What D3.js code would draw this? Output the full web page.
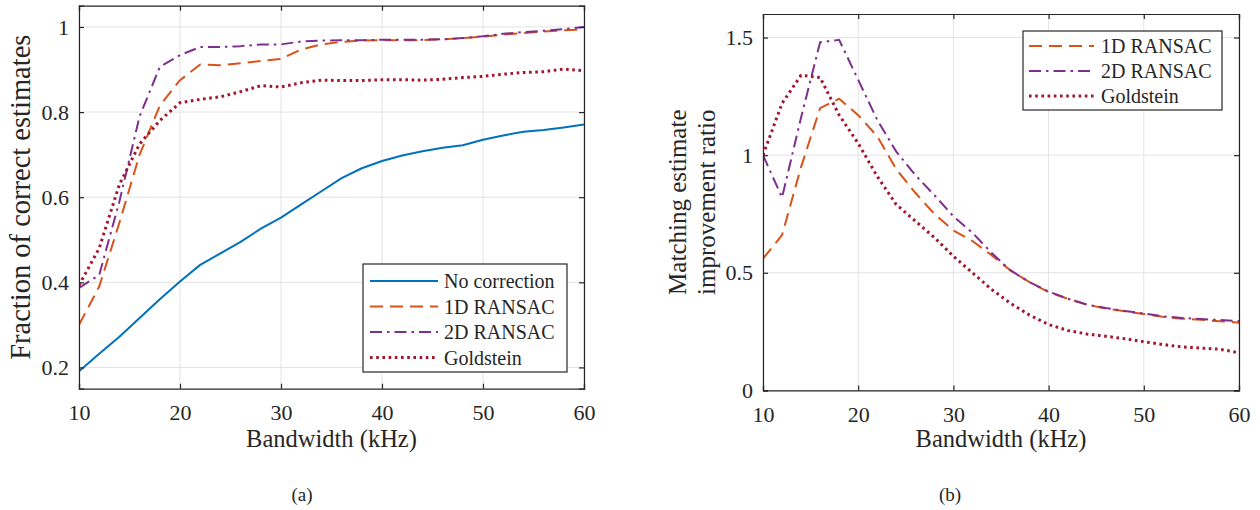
<!DOCTYPE html>
<html>
<head>
<meta charset="utf-8">
<script src="https://cdn.jsdelivr.net/npm/d3@7"></script>
<style>
  html, body { margin: 0; padding: 0; background: #fff; }
  svg { display: block; }
  text { font-family: "Liberation Serif", "Times New Roman", serif; fill: #262626; }
</style>
</head>
<body>
<svg id="fig" width="1260" height="510"></svg>
<script>
// Bandwidth sample points (kHz)
const bandwidth = [10, 12, 14, 16, 18, 20, 22, 24, 26, 28, 30, 32, 34, 36, 38, 40, 42, 44, 46, 48, 50, 52, 54, 56, 58, 60];

// (a) Fraction of correct estimates
const noCorrection = [0.191, 0.232, 0.272, 0.316, 0.360, 0.402, 0.441, 0.468, 0.495, 0.526, 0.552, 0.583, 0.614, 0.645, 0.668, 0.685, 0.698, 0.708, 0.716, 0.722, 0.735, 0.745, 0.754, 0.758, 0.764, 0.771];
const ransac1DFrac = [0.300, 0.390, 0.540, 0.700, 0.815, 0.875, 0.912, 0.910, 0.915, 0.920, 0.925, 0.947, 0.959, 0.965, 0.968, 0.969, 0.969, 0.969, 0.971, 0.974, 0.977, 0.982, 0.986, 0.989, 0.992, 0.994];
const ransac2DFrac = [0.387, 0.417, 0.590, 0.790, 0.906, 0.934, 0.953, 0.953, 0.955, 0.959, 0.959, 0.966, 0.968, 0.969, 0.969, 0.970, 0.970, 0.970, 0.971, 0.974, 0.978, 0.984, 0.988, 0.991, 0.995, 1.000];
const goldsteinFrac = [0.393, 0.480, 0.630, 0.725, 0.780, 0.822, 0.830, 0.836, 0.848, 0.862, 0.859, 0.869, 0.875, 0.874, 0.874, 0.876, 0.876, 0.875, 0.877, 0.881, 0.884, 0.889, 0.893, 0.895, 0.901, 0.897];

// (b) Matching estimate improvement ratio
const ransac1DRatio = [0.56, 0.66, 0.95, 1.20, 1.24, 1.17, 1.08, 0.94, 0.84, 0.75, 0.68, 0.635, 0.575, 0.51, 0.46, 0.418, 0.39, 0.365, 0.348, 0.336, 0.325, 0.313, 0.305, 0.300, 0.294, 0.288];
const ransac2DRatio = [1.00, 0.82, 1.16, 1.48, 1.49, 1.32, 1.15, 1.015, 0.915, 0.83, 0.74, 0.67, 0.585, 0.51, 0.46, 0.42, 0.39, 0.365, 0.35, 0.338, 0.327, 0.315, 0.308, 0.303, 0.299, 0.295];
const goldsteinRatio = [1.00, 1.22, 1.34, 1.33, 1.17, 1.05, 0.91, 0.79, 0.72, 0.65, 0.57, 0.50, 0.43, 0.37, 0.32, 0.28, 0.255, 0.24, 0.23, 0.22, 0.207, 0.195, 0.185, 0.18, 0.175, 0.16];

// Tick values and labels
const xTicks = [10, 20, 30, 40, 50, 60];
const yTicksA = [0.2, 0.4, 0.6, 0.8, 1];
const yTicksB = [0, 0.5, 1, 1.5];

const seriesNames = ["No correction", "1D RANSAC", "2D RANSAC", "Goldstein"];

const styles = {
  "No correction": { color: "#0072BD", dash: null, width: 2 },
  "1D RANSAC":     { color: "#D95319", dash: "13,7", width: 2 },
  "2D RANSAC":     { color: "#7E2F8E", dash: "12,5,2.5,5", width: 2 },
  "Goldstein":     { color: "#A2142F", dash: "2.6,3.6", width: 3 }
};

const svg = d3.select("#fig");
const defs = svg.append("defs");

function drawPanel(cfg) {
  const { id, left, right, top, bottom, yDomain, yTicks, series, legend, yLabelLines, yLabelX, yLabelSize, caption, captionX } = cfg;
  const x = d3.scaleLinear().domain([10, 60]).range([left, right]);
  const y = d3.scaleLinear().domain(yDomain).range([bottom, top]);
  const g = svg.append("g");

  defs.append("clipPath").attr("id", "clip-" + id)
    .append("rect").attr("x", left).attr("y", top).attr("width", right - left).attr("height", bottom - top);

  // grid
  g.append("g").selectAll("line").data(xTicks).join("line")
    .attr("x1", d => x(d)).attr("x2", d => x(d)).attr("y1", top).attr("y2", bottom)
    .attr("stroke", "#e3e3e3").attr("stroke-width", 1);
  g.append("g").selectAll("line").data(yTicks).join("line")
    .attr("x1", left).attr("x2", right).attr("y1", d => y(d)).attr("y2", d => y(d))
    .attr("stroke", "#e3e3e3").attr("stroke-width", 1);

  // data lines
  const line = d3.line().x(d => x(d[0])).y(d => y(d[1]));
  const lines = g.append("g").attr("clip-path", "url(#clip-" + id + ")");
  series.forEach(s => {
    const st = styles[s.name];
    lines.append("path")
      .datum(bandwidth.map((b, i) => [b, s.values[i]]))
      .attr("d", line)
      .attr("fill", "none")
      .attr("stroke", st.color)
      .attr("stroke-width", st.width)
      .attr("stroke-dasharray", st.dash)
      .attr("stroke-linejoin", "round");
  });

  // axes (ticks inside, mirrored on top/right)
  const tl = 5;
  const axB = d3.axisBottom(x).tickValues(xTicks).tickSize(-tl).tickPadding(16).tickFormat(d3.format("d"));
  const axT = d3.axisTop(x).tickValues(xTicks).tickSize(-tl).tickFormat("");
  const axL = d3.axisLeft(y).tickValues(yTicks).tickSize(-tl).tickPadding(10).tickFormat(d => String(d));
  const axR = d3.axisRight(y).tickValues(yTicks).tickSize(-tl).tickFormat("");

  function styleAxis(sel) {
    sel.select(".domain").attr("stroke", "#262626").attr("stroke-width", 1.2);
    sel.selectAll(".tick line").attr("stroke", "#262626").attr("stroke-width", 1.2);
    sel.selectAll("text").attr("font-size", 22).attr("fill", "#262626")
      .style("font-family", "'Liberation Serif', 'Times New Roman', serif");
  }
  g.append("g").attr("transform", `translate(0,${bottom})`).call(axB).call(styleAxis)
    .selectAll(".tick text").attr("dy", "0.71em");
  g.append("g").attr("transform", `translate(0,${top})`).call(axT).call(styleAxis);
  g.append("g").attr("transform", `translate(${left},0)`).call(axL).call(styleAxis);
  g.append("g").attr("transform", `translate(${right},0)`).call(axR).call(styleAxis);

  // x label
  g.append("text")
    .attr("x", (left + right) / 2).attr("y", 447)
    .attr("text-anchor", "middle").attr("font-size", 24.5)
    .text("Bandwidth (kHz)");

  // y label (one or two lines)
  const cy = (top + bottom) / 2;
  yLabelLines.forEach((txt, i) => {
    g.append("text")
      .attr("transform", `translate(${yLabelX[i]},${cy}) rotate(-90)`)
      .attr("text-anchor", "middle").attr("font-size", yLabelSize)
      .text(txt);
  });

  // legend
  const L = legend;
  const lg = g.append("g");
  lg.append("rect")
    .attr("x", L.x).attr("y", L.y).attr("width", L.w).attr("height", L.h)
    .attr("fill", "#fff").attr("stroke", "#262626").attr("stroke-width", 1.2);
  series.forEach((s, i) => {
    const st = styles[s.name];
    const ry = L.rowY + i * L.rowGap;
    lg.append("line")
      .attr("x1", L.sx0).attr("x2", L.sx1).attr("y1", ry).attr("y2", ry)
      .attr("stroke", st.color).attr("stroke-width", st.width)
      .attr("stroke-dasharray", st.dash);
    lg.append("text")
      .attr("x", L.tx).attr("y", ry + 7)
      .attr("font-size", 20).attr("fill", "#000")
      .text(s.name);
  });

  // caption
  svg.append("text")
    .attr("x", captionX).attr("y", 501)
    .attr("text-anchor", "middle").attr("font-size", 19).attr("fill", "#000")
    .text(caption);
}

drawPanel({
  id: "a", left: 79, right: 584, top: 5.7, bottom: 388.7,
  yDomain: [0.15, 1.05], yTicks: yTicksA,
  series: [
    { name: seriesNames[0], values: noCorrection },
    { name: seriesNames[1], values: ransac1DFrac },
    { name: seriesNames[2], values: ransac2DFrac },
    { name: seriesNames[3], values: goldsteinFrac }
  ],
  legend: { x: 363, y: 264, w: 204, h: 108, rowY: 281, rowGap: 25.5, sx0: 370, sx1: 438, tx: 444 },
  yLabelLines: ["Fraction of correct estimates"], yLabelX: [29.5], yLabelSize: 28.5,
  caption: "(a)", captionX: 302
});

drawPanel({
  id: "b", left: 763, right: 1239, top: 14, bottom: 390.4,
  yDomain: [0, 1.6], yTicks: yTicksB,
  series: [
    { name: seriesNames[1], values: ransac1DRatio },
    { name: seriesNames[2], values: ransac2DRatio },
    { name: seriesNames[3], values: goldsteinRatio }
  ],
  legend: { x: 1023, y: 31, w: 199, h: 79, rowY: 46, rowGap: 25, sx0: 1029, sx1: 1094, tx: 1101 },
  yLabelLines: ["Matching estimate", "improvement ratio"], yLabelX: [686, 715], yLabelSize: 25,
  caption: "(b)", captionX: 950
});
</script>
</body>
</html>
